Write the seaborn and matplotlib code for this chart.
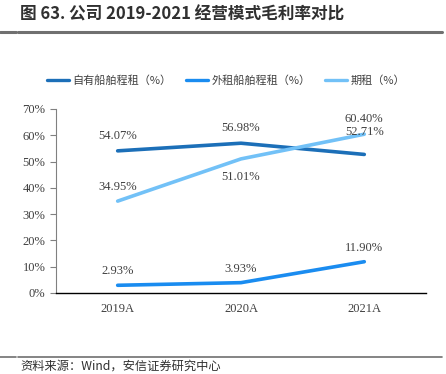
import numpy as np
import pandas as pd
import matplotlib
matplotlib.use("Agg")
import matplotlib.pyplot as plt
import seaborn as sns

years = ["2019A", "2020A", "2021A"]
own_ship = [54.07, 56.98, 52.71]
chartered_ship = [2.93, 3.93, 11.90]
time_charter = [34.95, 51.01, 60.40]
series_names = ["自有船舶程租（%）", "外租船舶程租（%）", "期租（%）"]
colors = ["#1c6fb8", "#1a8cf0", "#72c1f7"]

df = pd.DataFrame({"year": years * 3,
                   "value": own_ship + chartered_ship + time_charter,
                   "series": np.repeat(series_names, 3)})
df["x"] = np.tile(np.arange(3), 3)

sns.set_style("white")
plt.rcParams["font.family"] = ["Noto Sans CJK SC", "DejaVu Sans"]

fig = plt.figure(figsize=(4.46, 3.74), dpi=100)
ax = fig.add_axes([0.1256, 0.2166, 0.8294, 0.492])

sns.lineplot(data=df, x="x", y="value", hue="series", palette=colors,
             linewidth=2.6, ax=ax, legend=True)

# data labels (offset in points)
offsets = {series_names[0]: [11, 11, 16],
           series_names[1]: [10, 10, 10],
           series_names[2]: [10, -13, 11]}
for name, vals in zip(series_names, [own_ship, chartered_ship, time_charter]):
    for i, v in enumerate(vals):
        ax.annotate(f"{v:.2f}%", (i, v), xytext=(0, offsets[name][i]),
                    textcoords="offset points", ha="center", va="center",
                    fontsize=9, color="#404040", family="Liberation Serif")

ax.set_xlim(-0.5, 2.5)
ax.set_ylim(0, 70)
ax.set_xticks(range(3))
ax.set_xticklabels(years)
ax.set_yticks(range(0, 71, 10))
ax.set_yticklabels([f"{t}%" for t in range(0, 71, 10)])
ax.set_xlabel("")
ax.set_ylabel("")
for lab in ax.get_xticklabels() + ax.get_yticklabels():
    lab.set_family("Liberation Serif")
    lab.set_fontsize(9)
    lab.set_color("#404040")
ax.tick_params(axis="y", left=True, length=4, color="#808080", width=0.8)
ax.tick_params(axis="x", bottom=False, pad=4)
for s in ["top", "right"]:
    ax.spines[s].set_visible(False)
ax.spines["left"].set_color("#808080")
ax.spines["left"].set_linewidth(0.8)
ax.spines["bottom"].set_color("#000000")
ax.spines["bottom"].set_linewidth(1.0)

leg = ax.legend(loc="lower center", bbox_to_anchor=(0.46, 1.07), ncol=3,
                frameon=False, fontsize=8, handlelength=2.0,
                columnspacing=1.3, handletextpad=0.3)
for t in leg.get_texts():
    t.set_color("#404040")
for h in leg.get_lines():
    h.set_linewidth(2.4)

# title and footer
fig.text(0.045, 0.962, "图 63. 公司 2019-2021 经营模式毛利率对比", fontsize=12,
         fontweight="bold", color="#303030", va="center", ha="left")
fig.add_artist(plt.Line2D([0.0, 0.035], [0.915, 0.915], color="#707070", lw=2.2))
fig.add_artist(plt.Line2D([0.04, 0.99], [0.915, 0.915], color="#707070", lw=2.2))
fig.add_artist(plt.Line2D([0.0, 0.035], [0.046, 0.046], color="#707070", lw=1.2))
fig.add_artist(plt.Line2D([0.04, 0.99], [0.046, 0.046], color="#707070", lw=1.2))
fig.text(0.045, 0.021, "资料来源：Wind，安信证券研究中心", fontsize=8.8,
         style="italic", color="#303030", va="center", ha="left")

fig.savefig("out.png", dpi=100)
